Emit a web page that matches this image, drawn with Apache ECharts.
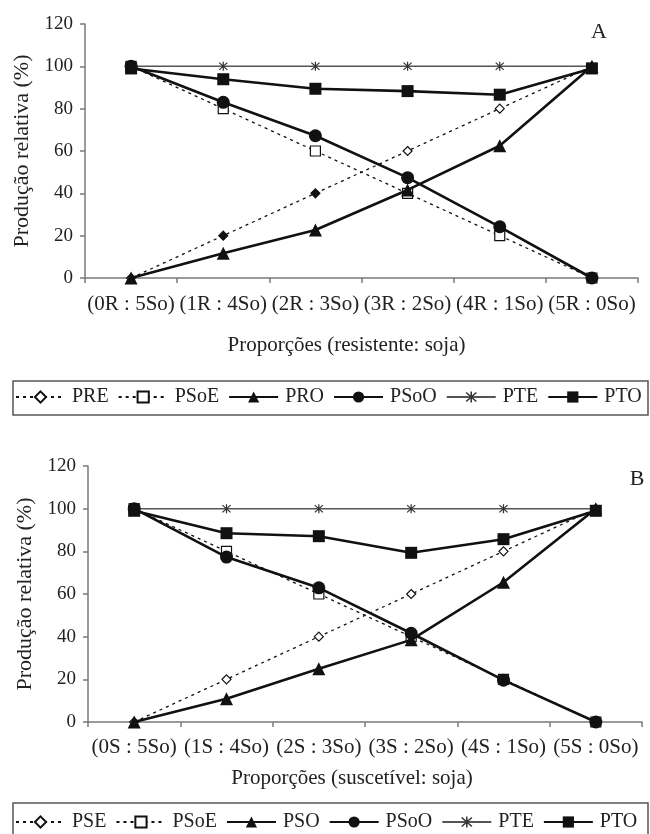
<!DOCTYPE html>
<html>
<head>
<meta charset="utf-8">
<script src="https://cdn.jsdelivr.net/npm/echarts@6/dist/echarts.min.js"></script>
<style>
html,body{margin:0;padding:0;background:#fff;}
#chart{width:650px;height:834px;}
</style>
</head>
<body>
<div id="chart"></div>
<script>
// ---- data ----
const categoriesA = ['(0R : 5So)','(1R : 4So)','(2R : 3So)','(3R : 2So)','(4R : 1So)','(5R : 0So)'];
const categoriesB = ['(0S : 5So)','(1S : 4So)','(2S : 3So)','(3S : 2So)','(4S : 1So)','(5S : 0So)'];
const yTicks = [0,20,40,60,80,100,120];

const PRE_A  = [0, 20, 40, 60, 80, 100];
const PSoE_A = [100, 80, 60, 40, 20, 0];
const PRO_A  = [0, 11.7, 22.7, 41.6, 62.5, 100];
const PSoO_A = [100, 83, 67.2, 47.4, 24.2, 0];
const PTE_A  = [100, 100, 100, 100, 100, 100];
const PTO_A  = [99, 93.9, 89.4, 88.3, 86.6, 99];

const PSE_B  = [0, 20, 40, 60, 80, 100];
const PSoE_B = [100, 80, 60, 40, 20, 0];
const PSO_B  = [0, 10.9, 25, 38.5, 65.5, 100];
const PSoO_B = [100, 77.3, 62.9, 41.6, 19.6, 0];
const PTE_B  = [100, 100, 100, 100, 100, 100];
const PTO_B  = [99, 88.5, 87.1, 79.3, 85.7, 99];

const namesA = ['PRE','PSoE','PRO','PSoO','PTE','PTO'];
const namesB = ['PSE','PSoE','PSO','PSoO','PTE','PTO'];
const xTitleA = 'Proporções (resistente: soja)';
const xTitleB = 'Proporções (suscetível: soja)';
const yTitle = 'Produção relativa (%)';

// ---- styles ----
const FONT = '"Liberation Serif", "DejaVu Serif", serif';
const ASTERISK = 'path://M4.4,0 L5.6,0 L5.6,10 L4.4,10 Z M1.4,0.6 L9.4,8.6 L8.6,9.4 L0.6,1.4 Z M8.6,0.6 L9.4,1.4 L1.4,9.4 L0.6,8.6 Z';

function grids(){
  return [
    {left:85, right:12, top:24, height:254},
    {left:88, right:8, top:466, height:256}
  ];
}
function xAxisCfg(idx, cats, title, nameGap, labelMargin, shiftLeft){
  return {
    type:'category', gridIndex:idx, data:cats, boundaryGap:true,
    axisLine:{lineStyle:{color:'#7a7a7a', width:1.5}},
    axisTick:{show:true, length:5, inside:false, lineStyle:{color:'#7a7a7a', width:1.5}},
    axisLabel:{color:'#222', fontFamily:FONT, fontSize:21, margin:labelMargin, interval:0},
    name:title, nameLocation:'middle', nameGap:nameGap,
    nameTextStyle:{color:'#222', fontFamily:FONT, fontSize:21, padding:[0, shiftLeft*2, 0, 0]}
  };
}
function yAxisCfg(idx, nameGap){
  return {
    type:'value', gridIndex:idx, min:yTicks[0], max:yTicks[yTicks.length-1], interval:20,
    axisLine:{show:true, lineStyle:{color:'#7a7a7a', width:1.5}},
    axisTick:{show:true, length:5, lineStyle:{color:'#7a7a7a', width:1.5}},
    splitLine:{show:false},
    axisLabel:{color:'#222', fontFamily:FONT, fontSize:19, margin:12},
    name:yTitle, nameLocation:'middle', nameGap:nameGap,
    nameTextStyle:{color:'#222', fontFamily:FONT, fontSize:22}
  };
}
function seriesSet(idx, names, d){
  const dotted = {color:'#111', width:1.3, type:[3,4]};
  const solid = {color:'#111', width:2.6, type:'solid'};
  return [
    {name:names[0], type:'line', xAxisIndex:idx, yAxisIndex:idx,
     data: d[0].map((v,i)=> (idx===0 && i>0 && i<3) ? {value:v, itemStyle:{color:'#111'}} : v),
     symbol:'diamond', symbolSize:9, lineStyle:dotted,
     itemStyle:{color:'#fff', borderColor:'#111', borderWidth:1.2}, z:2},
    {name:names[1], type:'line', xAxisIndex:idx, yAxisIndex:idx, data:d[1],
     symbol:'rect', symbolSize:10, lineStyle:dotted,
     itemStyle:{color:'#fff', borderColor:'#111', borderWidth:1.2}, z:2},
    {name:names[2], type:'line', xAxisIndex:idx, yAxisIndex:idx, data:d[2],
     symbol:'triangle', symbolSize:13, lineStyle:solid,
     itemStyle:{color:'#111'}, z:3},
    {name:names[3], type:'line', xAxisIndex:idx, yAxisIndex:idx, data:d[3],
     symbol:'circle', symbolSize:13, lineStyle:solid,
     itemStyle:{color:'#111'}, z:3},
    {name:names[4], type:'line', xAxisIndex:idx, yAxisIndex:idx, data:d[4],
     symbol:ASTERISK, symbolSize:9, lineStyle:{color:'#555', width:1.5},
     itemStyle:{color:'#333'}, z:2},
    {name:names[5], type:'line', xAxisIndex:idx, yAxisIndex:idx, data:d[5],
     symbol:'rect', symbolSize:12, lineStyle:solid,
     itemStyle:{color:'#111'}, z:4}
  ];
}
function legendCfg(names, top){
  return {
    data:names, left:15, top:top, width:660, orient:'horizontal', padding:0,
    itemWidth:49, itemHeight:14, itemGap:9, selectedMode:false,
    textStyle:{color:'#222', fontFamily:FONT, fontSize:20, padding:[0,0,0,2]}
  };
}

const chart = echarts.init(document.getElementById('chart'), null, {renderer:'canvas'});
chart.setOption({
  animation:false,
  backgroundColor:'#fff',
  grid: grids(),
  xAxis:[
    xAxisCfg(0, categoriesA, xTitleA, 57, 16, 15),
    xAxisCfg(1, categoriesB, xTitleB, 46, 15, 13)
  ],
  yAxis:[ yAxisCfg(0, 45), yAxisCfg(1, 47) ],
  legend:[ legendCfg(namesA, 387), legendCfg(namesB, 812) ],
  graphic:[
    {type:'rect', shape:{x:13, y:381, width:635, height:34}, style:{fill:'none', stroke:'#555', lineWidth:1.5}, silent:true},
    {type:'rect', shape:{x:13, y:803, width:635, height:36}, style:{fill:'none', stroke:'#555', lineWidth:1.5}, silent:true},
    {type:'text', x:599, y:32, style:{text:'A', fill:'#222', font:'22px '+FONT, textAlign:'center', textVerticalAlign:'middle'}, silent:true},
    {type:'text', x:637, y:479, style:{text:'B', fill:'#222', font:'22px '+FONT, textAlign:'center', textVerticalAlign:'middle'}, silent:true}
  ],
  series: [
    ...seriesSet(0, namesA, [PRE_A, PSoE_A, PRO_A, PSoO_A, PTE_A, PTO_A]),
    ...seriesSet(1, namesB, [PSE_B, PSoE_B, PSO_B, PSoO_B, PTE_B, PTO_B])
  ]
});
</script>
</body>
</html>
